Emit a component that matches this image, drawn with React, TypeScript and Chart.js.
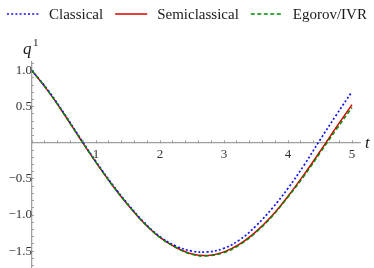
import React, { useEffect, useRef } from "react";
import { Chart, registerables } from "chart.js";

Chart.register(...registerables);

// ---- data ----
const T = [0, 0.25, 0.5, 0.75, 1, 1.25, 1.5, 1.75, 2, 2.25, 2.5, 2.75, 3, 3.25, 3.5, 3.75, 4, 4.25, 4.5, 4.75, 5];
const CLASSICAL = [1.0, 0.73, 0.41, 0.07, -0.26, -0.57, -0.85, -1.1, -1.3, -1.43, -1.5, -1.51, -1.46, -1.34, -1.15, -0.91, -0.63, -0.31, 0.04, 0.38, 0.71];
const SEMICLASSICAL = [1.0, 0.72, 0.4, 0.06, -0.27, -0.58, -0.86, -1.11, -1.31, -1.45, -1.54, -1.56, -1.51, -1.4, -1.23, -1.01, -0.74, -0.44, -0.12, 0.21, 0.53];
const EGOROV = [1.0, 0.72, 0.4, 0.06, -0.27, -0.58, -0.86, -1.11, -1.31, -1.45, -1.545, -1.565, -1.52, -1.41, -1.24, -1.02, -0.75, -0.46, -0.14, 0.18, 0.49];
const SERIES_NAMES = ["Classical", "Semiclassical", "Egorov/IVR"];
const X_MAJOR = [1, 2, 3, 4, 5];
const Y_MAJOR = [1.0, 0.5, -0.5, -1.0, -1.5];
const X_TITLE = "t";
const Y_TITLE = "q";
const Y_TITLE_SUP = "1";

const SERIF = '"Liberation Serif", "Times New Roman", serif';
const AXIS_GRAY = "#a0a0a0";

const toPts = (ys: number[]) => T.map((t, i) => ({ x: t, y: ys[i] }));

const legendPlugin = {
  id: "customLegend",
  afterDraw(chart: any) {
    const ctx = chart.ctx;
    ctx.save();
    ctx.font = `15px ${SERIF}`;
    ctx.textBaseline = "middle";
    let x = 7;
    const y = 14;
    const ds = chart.data.datasets;
    const order = SERIES_NAMES.map((n) => ds.find((d: any) => d.label === n));
    order.forEach((d: any) => {
      ctx.save();
      ctx.strokeStyle = d.borderColor;
      ctx.lineWidth = d.borderWidth;
      ctx.setLineDash(d.borderDash || []);
      ctx.beginPath();
      ctx.moveTo(x, y);
      ctx.lineTo(x + 32, y);
      ctx.stroke();
      ctx.restore();
      x += 42;
      ctx.fillStyle = "#1a1a1a";
      ctx.fillText(d.label, x, y + 1);
      x += ctx.measureText(d.label).width + 12;
    });
    ctx.restore();
  },
};

const titlesPlugin = {
  id: "axisTitles",
  afterDraw(chart: any) {
    const ctx = chart.ctx;
    const xs = chart.scales.x;
    const ys = chart.scales.y;
    const x0 = xs.getPixelForValue(0);
    const y0 = ys.getPixelForValue(0);
    ctx.save();
    ctx.fillStyle = "#1a1a1a";
    ctx.textBaseline = "alphabetic";
    ctx.font = `italic 17px ${SERIF}`;
    ctx.fillText(Y_TITLE, x0 - 9, chart.chartArea.top - 8);
    ctx.font = `11px ${SERIF}`;
    ctx.fillText(Y_TITLE_SUP, x0 + 1, chart.chartArea.top - 16);
    ctx.font = `italic 17px ${SERIF}`;
    ctx.fillText(X_TITLE, chart.chartArea.right + 5, y0 + 5);
    ctx.restore();
  },
};

const zeroPad = (axis: any) => {
  axis.paddingTop = 0;
  axis.paddingBottom = 0;
  axis.paddingLeft = 0;
  axis.paddingRight = 0;
};

export default function App() {
  const ref = useRef<HTMLCanvasElement | null>(null);
  useEffect(() => {
    if (!ref.current) return;
    const chart = new Chart(ref.current, {
      type: "line",
      data: {
        datasets: [
          {
            label: SERIES_NAMES[0],
            data: toPts(CLASSICAL),
            borderColor: "#1010f0",
            backgroundColor: "transparent",
            borderWidth: 1.7,
            borderDash: [2, 2.2],
            pointRadius: 0,
            tension: 0.4,
            order: 1,
          },
          {
            label: SERIES_NAMES[1],
            data: toPts(SEMICLASSICAL),
            borderColor: "#dd0000",
            backgroundColor: "transparent",
            borderWidth: 1.5,
            pointRadius: 0,
            tension: 0.4,
            order: 2,
          },
          {
            label: SERIES_NAMES[2],
            data: toPts(EGOROV),
            borderColor: "#008a00",
            backgroundColor: "transparent",
            borderWidth: 1.5,
            borderDash: [4, 2.5],
            pointRadius: 0,
            tension: 0.4,
            order: 0,
          },
        ],
      },
      options: {
        animation: false,
        responsive: false,
        layout: { padding: { left: 32, right: 14, top: 62, bottom: 1 } },
        plugins: { legend: { display: false }, tooltip: { enabled: false } },
        scales: {
          x: {
            type: "linear",
            position: { y: 0 } as any,
            min: 0,
            max: 5.125,
            afterFit: zeroPad,
            grid: { drawOnChartArea: false, drawTicks: true, tickLength: -3, tickColor: AXIS_GRAY },
            border: { color: AXIS_GRAY, width: 1.3 },
            ticks: {
              stepSize: 0.2,
              autoSkip: false,
              includeBounds: false,
              maxRotation: 0,
              padding: 7,
              color: "#333",
              font: { family: SERIF, size: 13 },
              callback: (v: any) => {
                const r = Math.round(Number(v) * 100) / 100;
                return X_MAJOR.includes(r) ? String(r) : "";
              },
            },
          },
          y: {
            type: "linear",
            position: { x: 0 } as any,
            min: -1.72,
            max: 1.12,
            afterFit: zeroPad,
            grid: { drawOnChartArea: false, drawTicks: true, tickLength: -3, tickColor: AXIS_GRAY },
            border: { color: AXIS_GRAY, width: 1.3 },
            ticks: {
              stepSize: 0.1,
              autoSkip: false,
              includeBounds: false,
              padding: 12,
              color: "#333",
              font: { family: SERIF, size: 13 },
              callback: (v: any) => {
                const r = Math.round(Number(v) * 10) / 10;
                return Y_MAJOR.includes(r) ? r.toFixed(1).replace("-", "\u2212") : "";
              },
            },
          },
        },
      } as any,
      plugins: [legendPlugin, titlesPlugin],
    });
    return () => chart.destroy();
  }, []);
  return (
    <div style={{ position: "absolute", left: 0, top: 0, width: 374, height: 268 }}>
      <canvas ref={ref} width={374} height={268} style={{ display: "block" }} />
    </div>
  );
}
